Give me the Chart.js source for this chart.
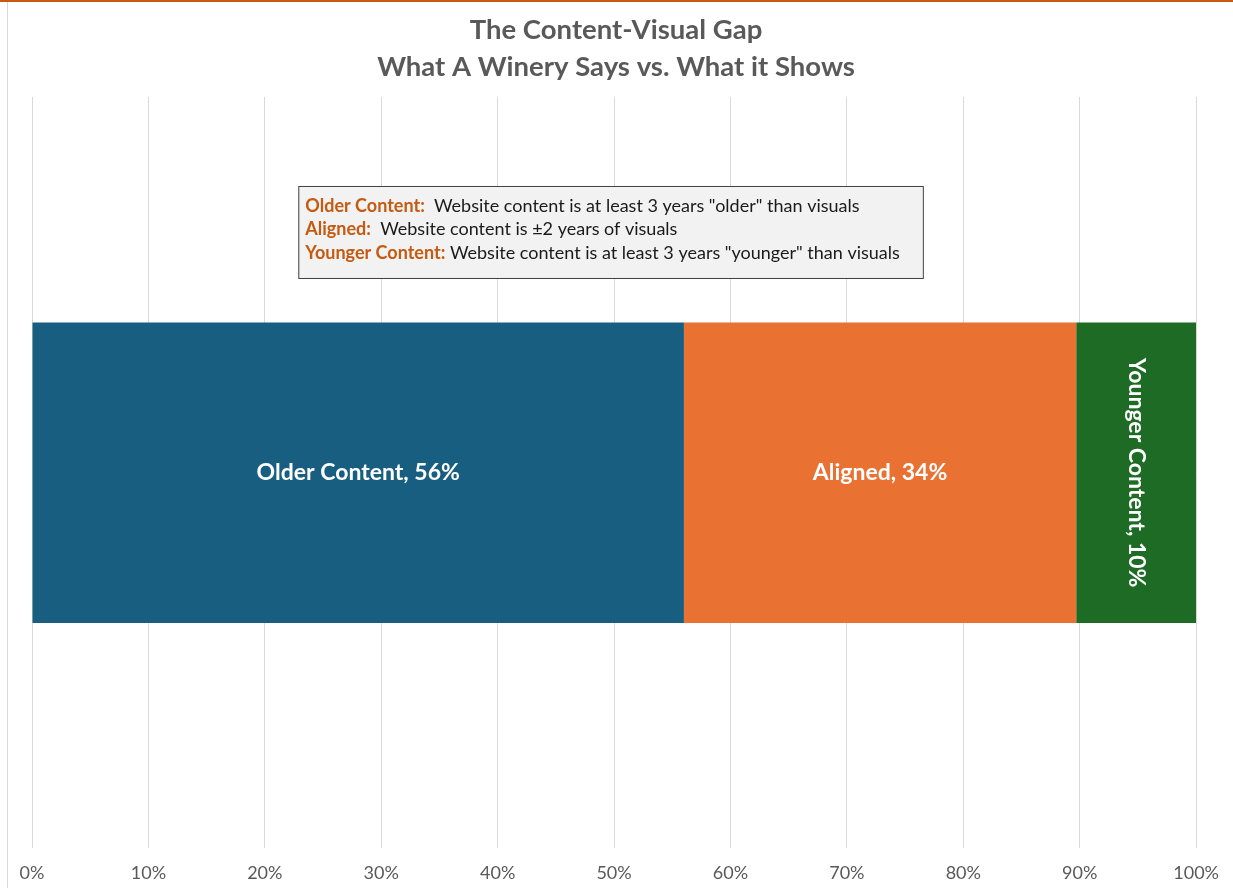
<!DOCTYPE html>
<html>
<head>
<meta charset="utf-8">
<script src="https://cdn.jsdelivr.net/npm/chart.js@4.4.1/dist/chart.umd.min.js"></script>
<style>
    html, body { margin: 0; padding: 0; background: #ffffff; }
    #frame { position: relative; width: 1233px; height: 888px; box-sizing: border-box; border-top: 2px solid #c55a11; }
    #frame:before { content: ''; position: absolute; left: 7px; top: 0; bottom: 0; border-left: 1px solid #d9d9d9; }
    canvas { position: absolute; left: 0; top: -2px; }
</style>
</head>
<body>
<div id="frame">
    <canvas id="gapChart" width="1233" height="888"></canvas>
</div>
<script>
const categories = ['Winery'];
const seriesNames = ['Older Content', 'Aligned', 'Younger Content'];
const seriesValues = [56.0, 33.7, 10.3];
const seriesColors = ['#175e80', '#e97132', '#1d6b24'];
const tickLabels = ['0%', '10%', '20%', '30%', '40%', '50%', '60%', '70%', '80%', '90%', '100%'];

const noteTerms = ['Older Content:', 'Aligned:', 'Younger Content:'];
const noteTexts = [
    ' Website content is at least 3 years "older" than visuals',
    ' Website content is \u00b12 years of visuals',
    'Website content is at least 3 years "younger" than visuals'
];

const fontFamily = 'Lato, "Open Sans", sans-serif';

// white labels inside each bar segment, last one turned on its side
const barLabels = {
    id: 'barLabels',
    afterDatasetsDraw(chart) {
        const ctx = chart.ctx;
        ctx.save();
        ctx.fillStyle = '#ffffff';
        ctx.font = 'bold 23px ' + fontFamily;
        ctx.textAlign = 'center';
        ctx.textBaseline = 'middle';
        chart.data.datasets.forEach((ds, i) => {
            const bar = chart.getDatasetMeta(i).data[0];
            const cx = (bar.x + bar.base) / 2;
            const text = ds.label + ', ' + Math.round(ds.data[0]) + '%';
            if (i === 2) {
                ctx.save();
                ctx.translate(cx, bar.y);
                ctx.rotate(Math.PI / 2);
                ctx.fillText(text, 0, 0);
                ctx.restore();
            } else {
                ctx.fillText(text, cx, bar.y);
            }
        });
        ctx.restore();
    }
};

// the grey explanation box above the bar
const noteBox = {
    id: 'noteBox',
    afterDatasetsDraw(chart) {
        const ctx = chart.ctx;
        const area = chart.chartArea;
        const xScale = chart.scales.x;
        ctx.save();
        let widest = 0;
        noteTerms.forEach((term, i) => {
            ctx.font = 'bold 18px ' + fontFamily;
            let w = ctx.measureText(term).width;
            ctx.font = '18px ' + fontFamily;
            w += ctx.measureText(' ' + noteTexts[i]).width;
            widest = Math.max(widest, w);
        });
        const boxW = widest + 30;
        const boxH = 92;
        const left = xScale.getPixelForValue(49.7) - boxW / 2;
        const top = area.top + 89;
        ctx.fillStyle = '#f2f2f2';
        ctx.fillRect(left, top, boxW, boxH);
        ctx.strokeStyle = '#404040';
        ctx.lineWidth = 1;
        ctx.strokeRect(left + 0.5, top + 0.5, boxW, boxH);
        ctx.textBaseline = 'middle';
        noteTerms.forEach((term, i) => {
            const y = top + 20 + i * 23.5;
            ctx.font = 'bold 18px ' + fontFamily;
            ctx.fillStyle = '#c55a11';
            ctx.fillText(term, left + 7, y);
            const tw = ctx.measureText(term).width;
            ctx.font = '18px ' + fontFamily;
            ctx.fillStyle = '#1a1a1a';
            ctx.fillText(' ' + noteTexts[i], left + 7 + tw, y);
        });
        ctx.restore();
    }
};

const datasets = seriesNames.map((name, i) => ({
    label: name,
    data: [seriesValues[i]],
    backgroundColor: seriesColors[i],
    borderWidth: 0,
    barPercentage: 0.8,
    categoryPercentage: 0.5
}));

new Chart(document.getElementById('gapChart'), {
    type: 'bar',
    data: { labels: categories, datasets: datasets },
    plugins: [noteBox, barLabels],
    options: {
        indexAxis: 'y',
        responsive: false,
        animation: false,
        devicePixelRatio: 1,
        layout: { padding: { left: 32, right: 33, top: 0, bottom: -10 } },
        plugins: {
            legend: { display: false },
            tooltip: { enabled: false },
            title: {
                display: true,
                text: ['The Content-Visual Gap', 'What A Winery Says vs. What it Shows'],
                color: '#595959',
                font: { family: fontFamily, size: 27.5, weight: 'bold', lineHeight: 1.345 },
                padding: { top: 11.5, bottom: 11.5 }
            }
        },
        scales: {
            x: {
                stacked: true,
                min: 0,
                max: 100,
                border: { display: false },
                grid: { color: '#d9d9d9', drawTicks: false },
                ticks: {
                    stepSize: 10,
                    padding: 14,
                    color: '#595959',
                    font: { family: fontFamily, size: 18 },
                    callback: (v, i) => tickLabels[i]
                }
            },
            y: {
                stacked: true,
                display: false
            }
        }
    }
});
</script>
</body>
</html>
